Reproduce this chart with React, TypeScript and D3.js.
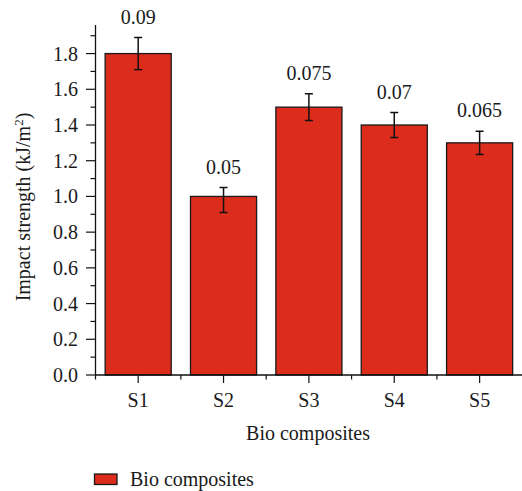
import React from "react";
import * as d3 from "d3";

const categories = ["S1", "S2", "S3", "S4", "S5"];
const values = [1.8, 1.0, 1.5, 1.4, 1.3];
const errHigh = [0.09, 0.05, 0.075, 0.07, 0.065];
const errLow = [0.09, 0.09, 0.075, 0.07, 0.065];
const labels = ["0.09", "0.05", "0.075", "0.07", "0.065"];
const yTicks = [0, 0.2, 0.4, 0.6, 0.8, 1.0, 1.2, 1.4, 1.6, 1.8];
const yMinor = [0.1, 0.3, 0.5, 0.7, 0.9, 1.1, 1.3, 1.5, 1.7, 1.9];

const W = 522, H = 491;
const RED = "#dc2c1c";
const FS = 20;
const CSS = "text{font-family:'Liberation Serif','Tinos','Times New Roman',monospace;font-size:20px;fill:#1a1a1a}";

export default function App() {
  const x = d3.scaleBand<string>().domain(categories).range([95.5, 522.3]).paddingInner(0.226).paddingOuter(0.113);
  const xc = d3.scalePoint<string>().domain(categories).range([95.5, 522.3]).padding(0.5);
  const y = d3.scaleLinear().domain([0, 1.96]).range([375, 25]);
  const step = x.step();
  const x0 = 95.5;
  const bounds = d3.range(1, categories.length).map((i) => x0 + i * step);

  return (
    <svg width={W} height={H} style={{ position: "absolute", left: 0, top: 0, background: "#fff" }}>
      <style>{CSS}</style>
      {categories.map((c, i) => (
        <rect key={c} x={x(c)} y={y(values[i])} width={x.bandwidth()} height={y(0) - y(values[i])}
          fill={RED} stroke="#1a1a1a" strokeWidth={1.3} />
      ))}
      {categories.map((c, i) => {
        const cx = xc(c)!;
        const t = y(values[i] + errHigh[i]);
        const b = y(values[i] - errLow[i]);
        return (
          <g key={c + "e"} stroke="#111" strokeWidth={1.5}>
            <line x1={cx} x2={cx} y1={t} y2={b} />
            <line x1={cx - 4} x2={cx + 4} y1={t} y2={t} />
            <line x1={cx - 4} x2={cx + 4} y1={b} y2={b} />
          </g>
        );
      })}
      {categories.map((c, i) => (
        <text key={c + "l"} x={xc(c)} y={y(values[i] + errHigh[i]) - 14} textAnchor="middle">
          {labels[i]}
        </text>
      ))}
      <line x1={95.5} x2={95.5} y1={y(1.96)} y2={y(0)} stroke="#111" strokeWidth={1.3} />
      {yTicks.map((t) => (
        <g key={"yt" + t}>
          <line x1={86} x2={95.5} y1={y(t)} y2={y(t)} stroke="#111" strokeWidth={1.2} />
          <text x={78} y={y(t) + 7} textAnchor="end">{t.toFixed(1)}</text>
        </g>
      ))}
      {yMinor.map((t) => (
        <line key={"ym" + t} x1={90.5} x2={95.5} y1={y(t)} y2={y(t)} stroke="#111" strokeWidth={1.2} />
      ))}
      <line x1={95} x2={522} y1={375} y2={375} stroke="#111" strokeWidth={1.3} />
      {categories.map((c) => (
        <g key={"xt" + c}>
          <line x1={xc(c)} x2={xc(c)} y1={375} y2={383} stroke="#111" strokeWidth={1.2} />
          <text x={xc(c)} y={407} textAnchor="middle">{c}</text>
        </g>
      ))}
      {[x0, ...bounds].map((b, i) => (
        <line key={"xm" + i} x1={b} x2={b} y1={375} y2={379.5} stroke="#111" strokeWidth={1.2} />
      ))}
      <text x={308} y={440} textAnchor="middle">Bio composites</text>
      <text transform="translate(30,207) rotate(-90)" textAnchor="middle">
        Impact strength (kJ/m<tspan dy="-7" style={{ fontSize: 13 }}>2</tspan><tspan dy="7">)</tspan>
      </text>
      <rect x={94.5} y={474} width={22.5} height={10.5} fill={RED} stroke="#1a1a1a" strokeWidth={1.3} />
      <text x={130} y={486}>Bio composites</text>
    </svg>
  );
}
